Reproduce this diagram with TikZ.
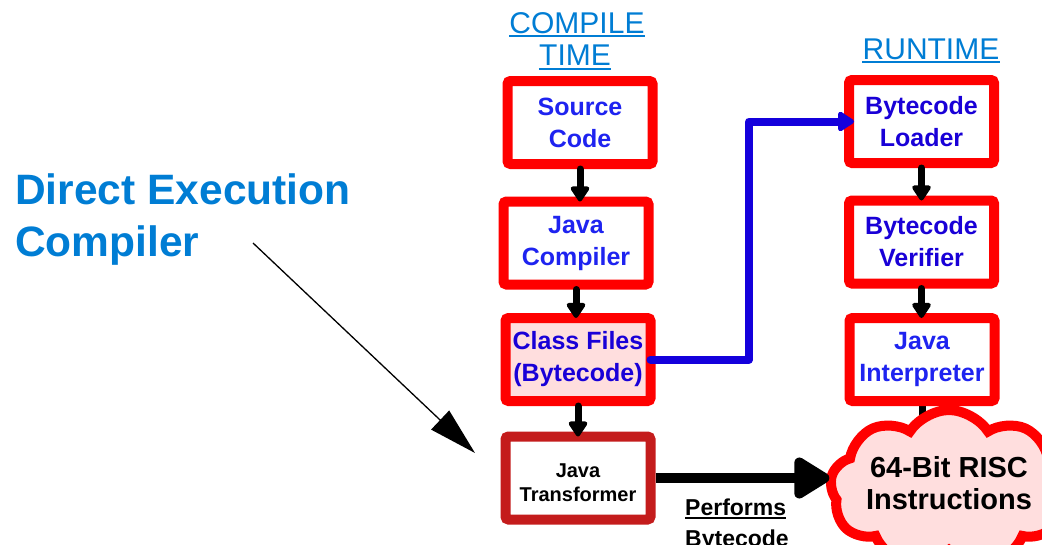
\documentclass[tikz,border=0pt]{standalone}
\usepackage{fontspec}
\setmainfont{Liberation Sans}
\usetikzlibrary{arrows.meta,shapes.symbols}
\definecolor{boxred}{RGB}{255,0,0}
\definecolor{darkred}{RGB}{196,28,28}
\definecolor{pinkfill}{RGB}{255,222,222}
\definecolor{headblue}{RGB}{0,125,212}
\definecolor{txtblue}{RGB}{30,35,240}
\definecolor{txtblueb}{RGB}{25,0,215}
\definecolor{linkblue}{RGB}{20,0,220}
\pgfdeclarelayer{bg}
\pgfsetlayers{bg,main}
\begin{document}
\begin{tikzpicture}[x=1pt,y=-1pt,
  box/.style={draw=boxred, line width=10pt, rounded corners=3pt, fill=white,
    minimum width=145pt, minimum height=83pt, inner sep=0pt, outer sep=0pt,
    align=center, font=\fontsize{25}{32}\selectfont\bfseries, text=txtblue},
  head/.style={inner sep=0pt, anchor=base, text=headblue, font=\fontsize{30}{30}\selectfont},
  uline/.style={line width=2pt},
  flow/.style={line width=7pt, line cap=round, -{Triangle[length=17pt,width=21pt,round]}, shorten <=5pt},
  bigflow/.style={line width=10pt, -{Triangle[length=40pt,width=46pt,round]}},
  link/.style={draw=linkblue, line width=8pt, line cap=round, line join=round,
    -{Triangle[length=18pt,width=22pt,round]}, shorten >=-5pt},
  thinarrow/.style={line width=1.3pt, -{Triangle[length=48pt,width=26pt]}},
  bigtext/.style={inner sep=0pt, anchor=base west, text=headblue, font=\fontsize{42.5}{51}\selectfont\bfseries},
  smalltext/.style={inner sep=0pt, anchor=base west, font=\fontsize{23}{30}\selectfont\bfseries},
  cloudbox/.style={cloud, cloud puffs=9, cloud puff arc=115, cloud ignores aspect,
    draw=boxred, line width=10pt,
    fill=pinkfill, minimum width=195pt, minimum height=158pt, inner sep=0pt, outer sep=0pt,
    align=center, font=\fontsize{29}{31.5}\selectfont\bfseries, text=black}
]
\useasboundingbox (0,0) rectangle (1042,544);
\clip (0,0) rectangle (1042,544);

% headings
\node[head] (ct1) at (577,33.5) {COMPILE\ };
\node[head] (ct2) at (575,65) {TIME};
\node[head] (rt) at (931,59.5) {RUNTIME};
\draw[uline, headblue] ([yshift=-2.5pt]ct1.base west) -- ([yshift=-2.5pt]ct1.base east);
\draw[uline, headblue] ([yshift=-3.5pt]ct2.base west) -- ([yshift=-3.5pt]ct2.base east);
\draw[uline, headblue] ([yshift=-2.5pt]rt.base west) -- ([yshift=-2.5pt]rt.base east);

% left title
\node[bigtext] (de1) at (15,204) {Direct Execution};
\node[bigtext] (de2) at (15,256.5) {Compiler};

% boxes
\node[box] (src) at (580,122.5) {Source\\Code};
\node[box] (comp) at (576,243) {Java\\Compiler};
\node[box, fill=pinkfill, text=txtblueb] (cls) at (578,359.5) {Class Files\\(Bytecode)};
\node[box, draw=darkred, text=black, font=\fontsize{20}{24}\selectfont\bfseries] (trans) at (578,478) {\rule{0pt}{24pt}Java\\Transformer};
\node[box, text=txtblueb] (load) at (921.5,121.5) {Bytecode\\Loader};
\node[box, text=txtblueb] (ver) at (921.5,242) {Bytecode\\Verifier};
\node[box] (interp) at (922,359.5) {Java\\Interpreter};

% cloud
\node[cloudbox] (cloud) at (949,489) {64-Bit RISC\\Instructions\rule[-12pt]{0pt}{0pt}};

\begin{pgfonlayer}{bg}
\draw[flow, shorten >=-25pt] (interp.south) -- (interp.south |- cloud.north);
\end{pgfonlayer}

% flows
\draw[flow] (src.south) -- (src.south |- comp.north);
\draw[flow] (comp.south) -- (comp.south |- cls.north);
\draw[flow] (cls.south) -- (cls.south |- trans.north);
\draw[flow] (load.south) -- (load.south |- ver.north);
\draw[flow] (ver.south) -- (ver.south |- interp.north);

\coordinate (bend) at (749,0);
\draw[link] (cls.east) -- (cls.east -| bend) |- (load.west);

\draw[bigflow, shorten <=5pt, shorten >=2pt] (trans.east) -- (trans.east -| cloud.west);

% performs label
\node[smalltext] (pf1) at (685,515) {Performs\ };
\node[smalltext] (pf2) at (685,546) {Bytecode};
\draw[uline] ([yshift=-3pt]pf1.base west) -- ([yshift=-3pt]pf1.base east);

% thin arrow
\coordinate (dstart) at (253,243);
\coordinate (dend) at (475,453);
\draw[thinarrow] (dstart) -- (dend);
\end{tikzpicture}
\end{document}
